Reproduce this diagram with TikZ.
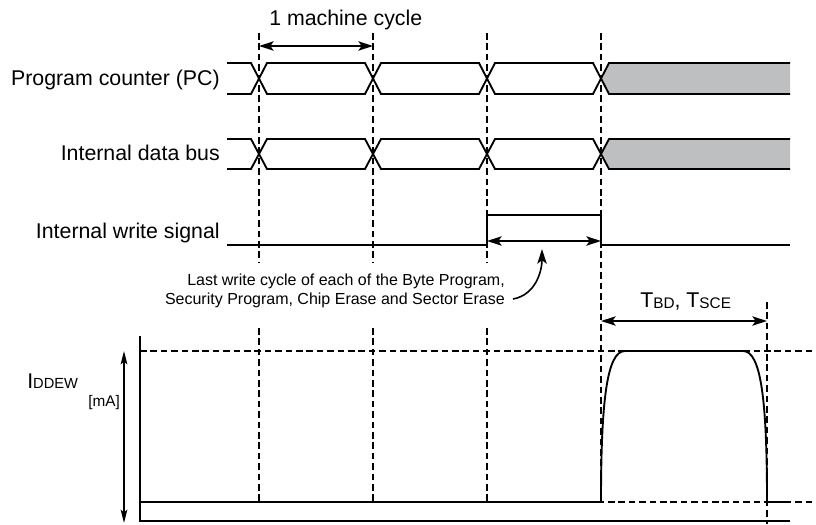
\documentclass[tikz,border=0pt]{standalone}
\usepackage{fontspec}
\setmainfont{Liberation Sans}
\usepackage{tikz}
\usetikzlibrary{arrows.meta,positioning}
\definecolor{busgray}{RGB}{190,191,193}

\tikzset{
  sig/.style={line width=1.4pt,black},
  grid/.style={line width=1.3pt,dash pattern=on 5pt off 2.8pt},
  dim/.style={line width=1.2pt,{Stealth[length=11pt,width=7pt,inset=2.5pt]}-{Stealth[length=11pt,width=7pt,inset=2.5pt]}},
  lbl/.style={anchor=base east,inner sep=0pt,font=\fontsize{16}{19}\selectfont},
}

\begin{document}
\begin{tikzpicture}[x=0.75pt,y=-0.75pt]
   \useasboundingbox (0,0) rectangle (816,524);
   \path
    (259,33) coordinate (c1)
    (373,33) coordinate (c2)
    (487,33) coordinate (c3)
    (601,33) coordinate (c4)
    (767,302) coordinate (c5)
    (140,351) coordinate (hi)
    (140,502) coordinate (lo);

    % grauer Bereich (ungueltige Daten)
    \foreach \yt/\yb in {63/94,139/169}{
      \fill[busgray] (601,{(\yt+\yb)/2}) -- (609,\yt) -- (790,\yt) -- (790,\yb) -- (609,\yb) -- cycle;
    }

    % gestrichelte Hilfslinien
    \foreach \c in {c1,c2,c3}{
      \draw[grid] (\c) -- ([yshift=-230*0.75pt]\c);
      \draw[grid] ([yshift=-295*0.75pt]\c) -- ([yshift=-469*0.75pt]\c);
    }
    \draw[grid] (c4) -- ([yshift=-469*0.75pt]c4);
    \draw[grid] (c5) -- ([yshift=-222*0.75pt]c5);
    \draw[grid] (hi) -- (816,351);
    \draw[grid] (lo) -- (816,502);

    % Busse PC und Datenbus
    \foreach \yt/\yb in {63/94,139/169}{
      \draw[sig] (227,\yt) -- (251,\yt) -- (267,\yb) -- (365,\yb) -- (381,\yt) -- (479,\yt) -- (495,\yb) -- (593,\yb) -- (609,\yt) -- (790,\yt);
      \draw[sig] (227,\yb) -- (251,\yb) -- (267,\yt) -- (365,\yt) -- (381,\yb) -- (479,\yb) -- (495,\yt) -- (593,\yt) -- (609,\yb) -- (790,\yb);
    }

    % Schreibsignal
    \draw[sig] (227,245) -- (487,245) -- (487,215) -- (601,215) -- (601,245) -- (790,245);

    % Strom IDDEW
    \draw[sig] (lo) -- (601,502) .. controls (601,400) and (607,351) .. (625,351)
      -- (743,351) .. controls (761,351) and (767,400) .. (767,502) -- (790,502);
    \draw[sig] (140,336) -- (140,521) -- (790,521);

    % Masspfeile
    \draw[dim] ([yshift=-13*0.75pt]c1) -- ([yshift=-13*0.75pt]c2);
    \draw[dim] (487,241) coordinate (w1) -- (601,241) coordinate (w2);
    \draw[dim] (601,321) -- (767,321);
    \draw[dim,{Stealth[length=10pt,width=5pt,inset=2pt]}-{Stealth[length=10pt,width=5pt,inset=2pt]}] (124,351) -- (124,523);

    % Beschriftungen
    \node[lbl] (pc) at (220,86) {Program counter (PC)};
    \node[lbl] (db) at (220,161) {Internal data bus};
    \node[lbl] (ws) at (220,238) {Internal write signal};
    \node[anchor=base west,inner sep=0pt,font=\fontsize{16}{19}\selectfont] (mc) at (269,26) {1 machine cycle};
    \node[anchor=base west,inner sep=0pt,font=\fontsize{16}{19}\selectfont] (tbd) at (640,307)
      {T{\fontsize{11.5}{11}\selectfont\raisebox{-0.2ex}{BD}}, T{\fontsize{11.5}{11}\selectfont\raisebox{-0.2ex}{SCE}}};
    \node[anchor=base west,inner sep=0pt,font=\fontsize{16}{19}\selectfont] (idd) at (27,388)
      {I{\fontsize{11}{11}\selectfont DDEW}};
    \node[anchor=base west,inner sep=0pt,font=\fontsize{11.5}{13}\selectfont] (ma) at (88,406) {[mA]};
    \node[anchor=east,align=right,inner sep=0pt,font=\fontsize{12}{14.2}\selectfont] (note) at (505,291)
      {Last write cycle of each of the Byte Program,\\Security Program, Chip Erase and Sector Erase};

    \coordinate (tail) at (513,299);
    \draw[line width=1.2pt,-{Stealth[length=11pt,width=7pt,inset=2.5pt]}] (tail) to[out=10,in=-90] (542,249);
\end{tikzpicture}
\end{document}
